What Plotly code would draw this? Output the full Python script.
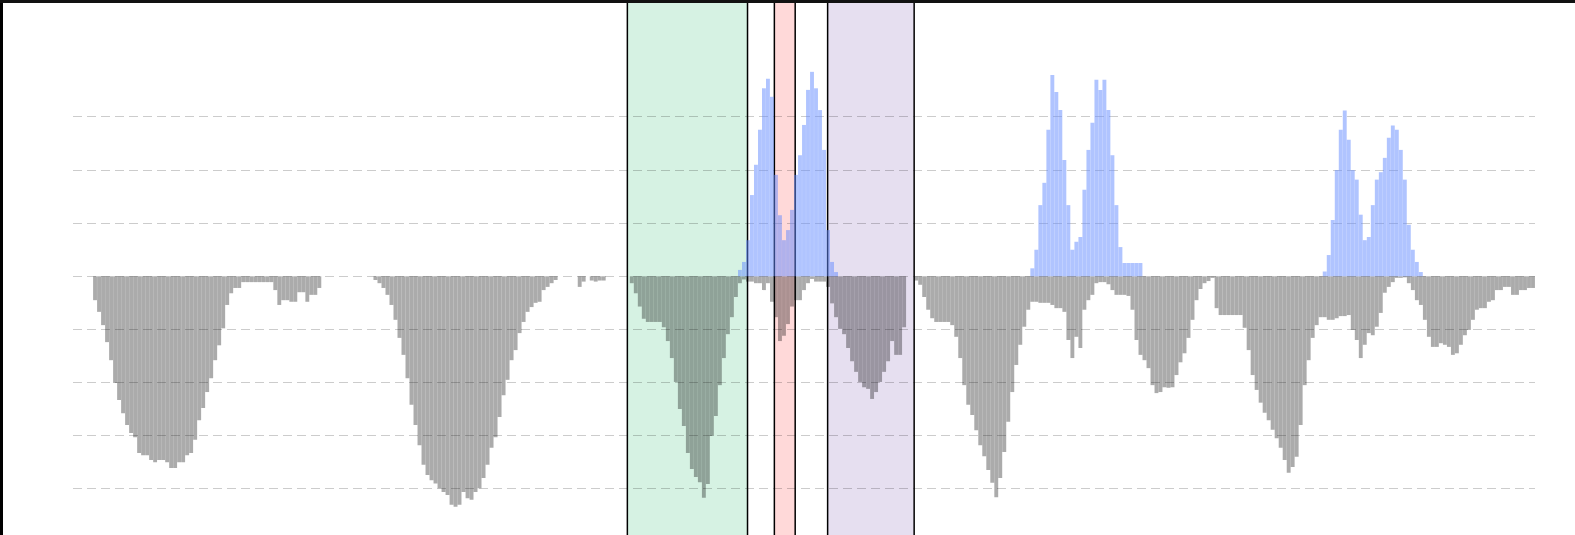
import plotly.graph_objects as go

# Daily series: one bar per day for a year
day = list(range(365))

# Values below the baseline (grey bars)
deficit = [
    0, 0, 0, 0, 0, -0.45, -0.67, -0.92, -1.24, -1.58,
    -2.01, -2.33, -2.58, -2.80, -2.95, -3.03, -3.33, -3.37, -3.37, -3.46,
    -3.50, -3.46, -3.46, -3.50, -3.61, -3.61, -3.50, -3.50, -3.37, -3.33,
    -3.08, -2.71, -2.48, -2.18, -1.92, -1.58, -1.30, -0.98, -0.54, -0.32,
    -0.22, -0.22, -0.11, -0.11, -0.11, -0.11, -0.11, -0.11, -0.11, -0.11,
    -0.26, -0.54, -0.45, -0.45, -0.48, -0.48, -0.30, -0.30, -0.48, -0.35,
    -0.35, -0.22, 0, 0, 0, 0, 0, 0, 0, 0,
    0, 0, 0, 0, 0, -0.07, -0.13, -0.22, -0.35, -0.54,
    -0.82, -1.16, -1.48, -1.92, -2.42, -2.80, -3.18, -3.55, -3.74, -3.84,
    -3.90, -3.99, -4.06, -4.12, -4.30, -4.34, -4.30, -4.06, -4.18, -4.21,
    -4.06, -3.99, -3.80, -3.55, -3.23, -3.03, -2.65, -2.24, -1.95, -1.58,
    -1.39, -1.07, -0.86, -0.67, -0.58, -0.50, -0.48, -0.26, -0.20, -0.13,
    -0.07, 0, 0, 0, 0, 0, -0.20, -0.10, 0, -0.08,
    -0.10, -0.08, -0.08, 0, 0, 0, 0, 0, 0, -0.13,
    -0.32, -0.57, -0.80, -0.86, -0.86, -0.86, -0.86, -0.96, -1.22, -1.54,
    -1.99, -2.50, -2.82, -3.33, -3.63, -3.78, -3.88, -4.17, -3.91, -3.01,
    -2.63, -2.05, -1.54, -1.09, -0.77, -0.39, -0.13, -0.06, -0.10, -0.10,
    -0.13, -0.13, -0.26, -0.13, -0.48, -0.77, -1.22, -1.12, -0.90, -0.57,
    -0.45, -0.45, -0.26, -0.13, -0.05, -0.10, -0.10, -0.10, -0.20, -0.51,
    -0.77, -0.99, -1.09, -1.35, -1.60, -1.80, -1.99, -2.09, -2.12, -2.31,
    -2.18, -1.99, -1.80, -1.60, -1.22, -1.48, -1.48, -0.96, 0, 0,
    -0.08, -0.16, -0.39, -0.63, -0.79, -0.86, -0.86, -0.86, -0.86, -0.92,
    -1.14, -1.54, -2.05, -2.42, -2.61, -2.90, -3.18, -3.39, -3.65, -3.89,
    -4.16, -3.80, -3.31, -2.74, -2.18, -1.67, -1.29, -0.95, -0.63, -0.48,
    -0.48, -0.50, -0.50, -0.50, -0.54, -0.60, -0.60, -0.67, -1.20, -1.54,
    -1.14, -1.35, -0.63, -0.45, -0.35, -0.13, -0.11, -0.11, -0.15, -0.26,
    -0.35, -0.35, -0.35, -0.37, -0.63, -1.20, -1.48, -1.58, -1.73, -2.05,
    -2.20, -2.18, -2.09, -2.10, -2.09, -1.86, -1.62, -1.45, -1.16, -0.82,
    -0.45, -0.24, -0.13, -0.09, -0.03, -0.60, -0.73, -0.73, -0.73, -0.73,
    -0.73, -0.73, -0.97, -1.39, -1.86, -2.14, -2.38, -2.57, -2.71, -2.89,
    -3.05, -3.23, -3.46, -3.70, -3.59, -3.40, -2.80, -2.05, -1.58, -1.16,
    -0.92, -0.77, -0.77, -0.82, -0.82, -0.79, -0.75, -0.75, -0.73, -1.01,
    -1.20, -1.54, -1.29, -1.07, -1.11, -0.95, -0.69, -0.31, -0.20, -0.11,
    -0.03, -0.03, -0.02, -0.13, -0.26, -0.45, -0.54, -0.82, -1.14, -1.33,
    -1.33, -1.26, -1.29, -1.33, -1.48, -1.45, -1.29, -1.11, -1.01, -0.82,
    -0.63, -0.60, -0.60, -0.48, -0.45, -0.26, -0.26, -0.20, -0.20, -0.35,
    -0.35, -0.26, -0.26, -0.22, -0.22,
]

# Values above the baseline (blue bars)
surplus = [
    0, 0, 0, 0, 0, 0, 0, 0, 0, 0,
    0, 0, 0, 0, 0, 0, 0, 0, 0, 0,
    0, 0, 0, 0, 0, 0, 0, 0, 0, 0,
    0, 0, 0, 0, 0, 0, 0, 0, 0, 0,
    0, 0, 0, 0, 0, 0, 0, 0, 0, 0,
    0, 0, 0, 0, 0, 0, 0, 0, 0, 0,
    0, 0, 0, 0, 0, 0, 0, 0, 0, 0,
    0, 0, 0, 0, 0, 0, 0, 0, 0, 0,
    0, 0, 0, 0, 0, 0, 0, 0, 0, 0,
    0, 0, 0, 0, 0, 0, 0, 0, 0, 0,
    0, 0, 0, 0, 0, 0, 0, 0, 0, 0,
    0, 0, 0, 0, 0, 0, 0, 0, 0, 0,
    0, 0, 0, 0, 0, 0, 0, 0, 0, 0,
    0, 0, 0, 0, 0, 0, 0, 0, 0, 0,
    0, 0, 0, 0, 0, 0, 0, 0, 0, 0,
    0, 0, 0, 0, 0, 0, 0, 0, 0, 0,
    0, 0, 0, 0, 0, 0, 0.12, 0.27, 0.68, 1.53,
    2.10, 2.76, 3.54, 3.72, 3.38, 1.91, 1.15, 0.68, 0.87, 1.25,
    1.91, 2.28, 2.85, 3.51, 3.85, 3.54, 3.13, 2.38, 0.87, 0.27,
    0.08, 0, 0, 0, 0, 0, 0, 0, 0, 0,
    0, 0, 0, 0, 0, 0, 0, 0, 0, 0,
    0, 0, 0, 0, 0, 0, 0, 0, 0, 0,
    0, 0, 0, 0, 0, 0, 0, 0, 0, 0,
    0, 0, 0, 0, 0, 0, 0, 0, 0, 0.15,
    0.50, 1.34, 1.76, 2.76, 3.79, 3.47, 3.13, 2.19, 1.34, 0.50,
    0.65, 0.74, 1.63, 2.38, 2.89, 3.70, 3.51, 3.70, 3.13, 2.28,
    1.34, 0.55, 0.25, 0.25, 0.25, 0.25, 0.25, 0, 0, 0,
    0, 0, 0, 0, 0, 0, 0, 0, 0, 0,
    0, 0, 0, 0, 0, 0, 0, 0, 0, 0,
    0, 0, 0, 0, 0, 0, 0, 0, 0, 0,
    0, 0, 0, 0, 0, 0, 0, 0, 0, 0,
    0, 0, 0.09, 0.40, 1.06, 2.00, 2.76, 3.12, 2.57, 2.00,
    1.82, 1.16, 0.68, 0.74, 1.34, 1.82, 1.96, 2.23, 2.61, 2.84,
    2.76, 2.38, 1.82, 0.97, 0.50, 0.27, 0.08, 0, 0, 0,
    0, 0, 0, 0, 0, 0, 0, 0, 0, 0,
    0, 0, 0, 0, 0, 0, 0, 0, 0, 0,
    0, 0, 0, 0, 0,
]

# Highlighted periods (in day units) and their fills
period_start = [137.9, 174.6, 187.9]
period_end = [167.9, 179.8, 209.5]
period_fill = ["#d6f2e3", "#ffd9d9", "#e6dff0"]

# Dashed reference levels
grid_levels = [-4, -3, -2, -1, 0, 1, 2, 3]

W, H = 1575, 535
ML, MR = 73, 40
plot_w = W - ML - MR

fig = go.Figure()
fig.add_trace(go.Bar(
    x=day, y=deficit,
    marker=dict(color="rgba(0,0,0,0.33)", line=dict(width=0)),
    hoverinfo="skip",
))
fig.add_trace(go.Bar(
    x=day, y=surplus,
    marker=dict(color="rgba(97,137,255,0.5)", line=dict(width=0)),
    hoverinfo="skip",
))

shapes = []
for x0, x1, col in zip(period_start, period_end, period_fill):
    shapes.append(dict(
        type="rect", xref="x", yref="paper", x0=x0, x1=x1, y0=-0.01, y1=1.0,
        fillcolor=col, line=dict(color="black", width=1.5), layer="below",
    ))

# Frame along the top and left edges of the page
shapes.append(dict(
    type="line", xref="paper", yref="paper",
    x0=(1.5 - ML) / plot_w, x1=(1.5 - ML) / plot_w, y0=-0.05, y1=1.05,
    line=dict(color="black", width=3), layer="above",
))
shapes.append(dict(
    type="line", xref="paper", yref="paper",
    x0=-ML / plot_w - 0.01, x1=(W - ML) / plot_w + 0.01,
    y0=1 - 1.5 / H, y1=1 - 1.5 / H,
    line=dict(color="#111111", width=3), layer="above",
))

fig.update_layout(
    width=W, height=H,
    margin=dict(l=ML, r=MR, t=0, b=0, pad=0),
    paper_bgcolor="white", plot_bgcolor="white",
    barmode="overlay", bargap=0.03,
    showlegend=False,
    shapes=shapes,
    xaxis=dict(range=[-0.5, 364.5], visible=False, showgrid=False, zeroline=False),
    yaxis=dict(
        range=[-4.872, 5.203], tickvals=grid_levels, showticklabels=False,
        ticks="", showgrid=True, gridcolor="rgba(0,0,0,0.2)", gridwidth=1,
        griddash="9px,5px", zeroline=False, showline=False,
    ),
)

fig.write_html("out.html")
